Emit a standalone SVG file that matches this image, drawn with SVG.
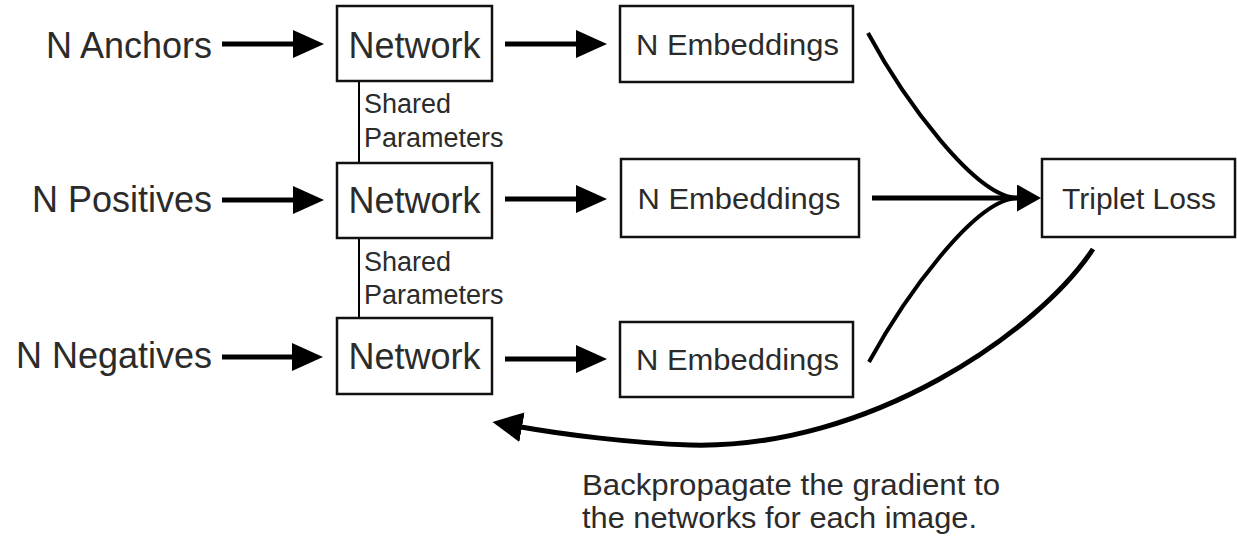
<svg xmlns="http://www.w3.org/2000/svg" width="1237" height="540" viewBox="0 0 1237 540">
  <style>
    .box { fill: #ffffff; stroke: #111111; stroke-width: 2.5; }
    .lbl { font-family: "Liberation Sans", Arial, sans-serif; fill: #2b2b2b; }
    .big { font-size: 36px; }
    .mid { font-size: 30px; }
    .sm { font-size: 27px; }
    .thick { stroke: #000000; stroke-width: 5; fill: none; }
    .curve { stroke: #000000; stroke-width: 4; fill: none; }
    .thin { stroke: #000000; stroke-width: 2; fill: none; }
  </style>
  <defs>
    <marker id="headA" markerUnits="userSpaceOnUse" markerWidth="31" markerHeight="28" refX="0" refY="14" orient="auto">
      <path d="M0,0 L31,14 L0,28 z" fill="#000000"/>
    </marker>
    <marker id="headB" markerUnits="userSpaceOnUse" markerWidth="24" markerHeight="27" refX="0" refY="13.5" orient="auto">
      <path d="M0,0 L24,13.5 L0,27 z" fill="#000000"/>
    </marker>
    <marker id="headC" markerUnits="userSpaceOnUse" markerWidth="30" markerHeight="30" refX="1" refY="15" orient="auto">
      <path d="M0,0 L30,15 L0,30 z" fill="#000000"/>
    </marker>
  </defs>

  <g id="connectors">
    <path class="thick" d="M222,44 H293" marker-end="url(#headA)"/>
    <path class="thick" d="M222,200 H293" marker-end="url(#headA)"/>
    <path class="thick" d="M222,357 H292" marker-end="url(#headA)"/>
    <path class="thick" d="M505,44 H576" marker-end="url(#headA)"/>
    <path class="thick" d="M505,199 H576" marker-end="url(#headA)"/>
    <path class="thick" d="M505,359 H576" marker-end="url(#headA)"/>
    <path class="thin" d="M359,81 V163"/>
    <path class="thin" d="M359,238 V318"/>
    <path class="curve" d="M868,33 C903,98 975,198 1018,198"/>
    <path class="curve" d="M869,362 C904,298 975,198 1018,198"/>
    <path class="thick" d="M872,198 H1017" marker-end="url(#headB)"/>
    <path class="thick" stroke-width="6" d="M1093,249 C1040,330 870,450 690,445 C630,443 560,434 521,427" marker-end="url(#headC)"/>
  </g>

  <g id="in-anchors"><text class="lbl big" x="212" y="58" text-anchor="end">N Anchors</text></g>
  <g id="in-positives"><text class="lbl big" x="212" y="212" text-anchor="end">N Positives</text></g>
  <g id="in-negatives"><text class="lbl big" x="212" y="368" text-anchor="end">N Negatives</text></g>

  <g id="network1"><rect class="box" x="337" y="6" width="155" height="75"/><text class="lbl big" x="414.5" y="58" text-anchor="middle">Network</text></g>
  <g id="network2"><rect class="box" x="337" y="163" width="155" height="75"/><text class="lbl big" x="414.5" y="213" text-anchor="middle">Network</text></g>
  <g id="network3"><rect class="box" x="337" y="318" width="155" height="76"/><text class="lbl big" x="414.5" y="369" text-anchor="middle">Network</text></g>

  <g id="shared1"><text class="lbl sm" x="364" y="113">Shared</text><text class="lbl sm" x="364" y="147">Parameters</text></g>
  <g id="shared2"><text class="lbl sm" x="364" y="271">Shared</text><text class="lbl sm" x="364" y="304">Parameters</text></g>

  <g id="emb1"><rect class="box" x="620" y="6" width="233" height="76"/><text class="lbl mid" x="737.5" y="55" text-anchor="middle" textLength="203" lengthAdjust="spacingAndGlyphs">N Embeddings</text></g>
  <g id="emb2"><rect class="box" x="621" y="159" width="238" height="78"/><text class="lbl mid" x="739" y="209" text-anchor="middle" textLength="203" lengthAdjust="spacingAndGlyphs">N Embeddings</text></g>
  <g id="emb3"><rect class="box" x="620" y="322" width="233" height="75"/><text class="lbl mid" x="737.5" y="370" text-anchor="middle" textLength="203" lengthAdjust="spacingAndGlyphs">N Embeddings</text></g>

  <g id="triplet"><rect class="box" x="1042" y="159" width="193" height="78"/><text class="lbl" font-size="29" x="1139" y="209" text-anchor="middle" textLength="154" lengthAdjust="spacingAndGlyphs">Triplet Loss</text></g>

  <g id="note">
    <text class="lbl" font-size="29" x="582" y="495" textLength="418" lengthAdjust="spacingAndGlyphs">Backpropagate the gradient to</text>
    <text class="lbl" font-size="29" x="582" y="528" textLength="395" lengthAdjust="spacingAndGlyphs">the networks for each image.</text>
  </g>
</svg>
